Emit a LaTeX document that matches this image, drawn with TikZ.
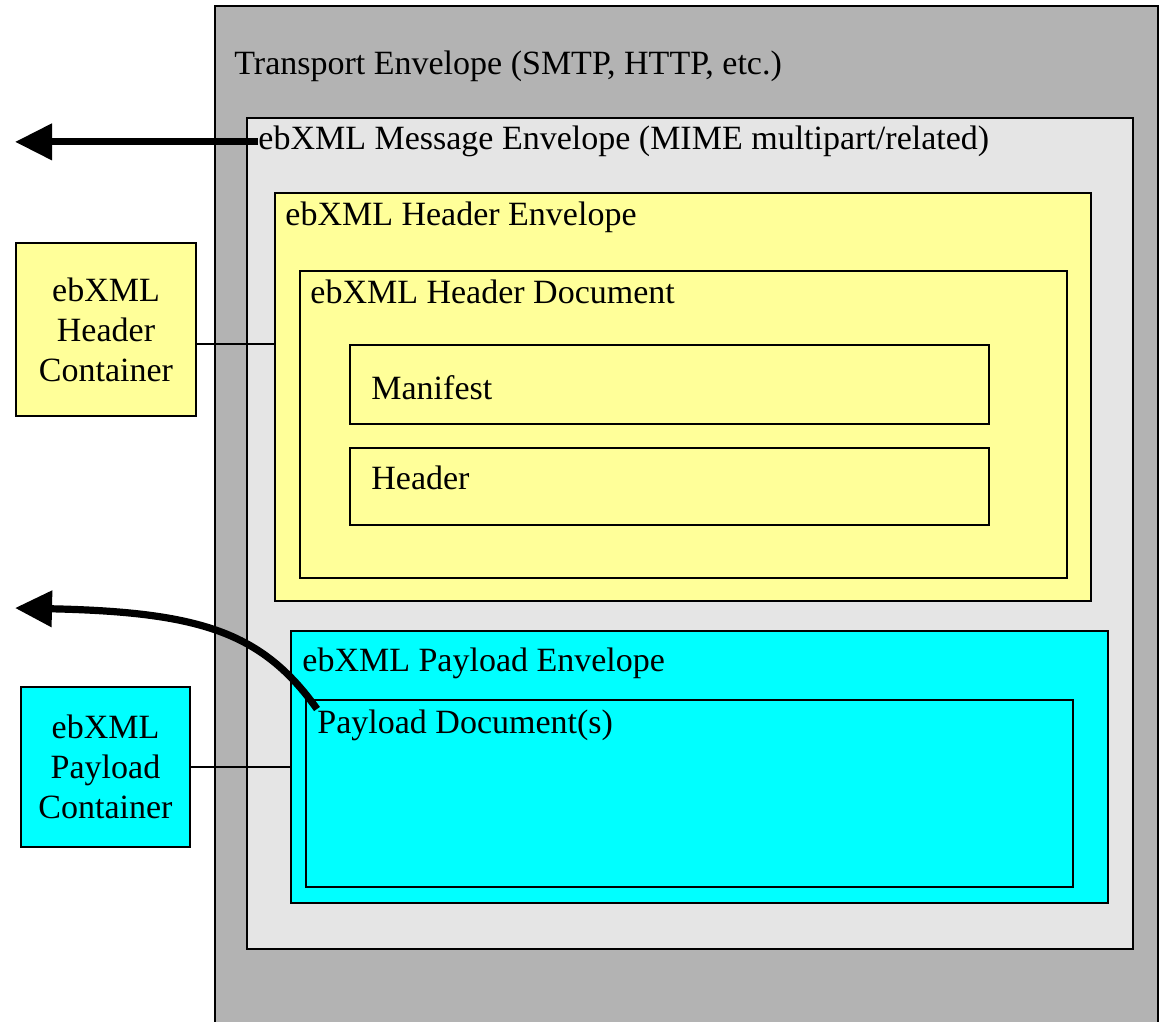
\documentclass[tikz,border=0pt]{standalone}
\usepackage{fontspec}
\setmainfont{Liberation Serif}
\usetikzlibrary{positioning,arrows.meta}
\definecolor{transgray}{RGB}{179,179,179}
\definecolor{msggray}{RGB}{229,229,229}
\definecolor{hdryellow}{RGB}{255,255,153}
\definecolor{paycyan}{RGB}{0,255,255}

\begin{document}
\begin{tikzpicture}[x=0.5pt, y=-0.5pt,
env/.style={rectangle, draw=black, line width=1pt, anchor=north west, inner sep=0pt},
lbl/.style={anchor=base west, inner sep=0pt, font=\fontsize{17}{20}\selectfont},
cont/.style={rectangle, draw=black, line width=1pt, align=center, inner sep=0pt, font=\fontsize{17}{20}\selectfont},
link/.style={draw=black, line width=0.6pt},
bigarrow/.style={line width=3.6pt, -{Triangle[length=18.5pt,width=17.5pt]}}
]
\useasboundingbox (0,0) rectangle (1159,1021);

% nested envelopes
\node[env, fill=transgray, minimum width=471.5pt, minimum height=517.5pt](transport) at (214,5) {};
\node[env, fill=msggray, minimum width=443pt, minimum height=415.5pt](msg_env) at (246,117) {};
\node[env, fill=hdryellow, minimum width=408pt, minimum height=204pt](hdr_env) at (274,192) {};
\node[env, fill=hdryellow, minimum width=383.5pt, minimum height=153.5pt](hdr_doc) at (299,270) {};
\node[env, fill=hdryellow, minimum width=319.5pt, minimum height=39.5pt](manifest) at (349,344) {};
\node[env, fill=hdryellow, minimum width=319.5pt, minimum height=38.5pt](header) at (349,447) {};
\node[env, fill=paycyan, minimum width=408.5pt, minimum height=136pt](pay_env) at (290,630) {};
\node[env, fill=paycyan, minimum width=383.5pt, minimum height=93.5pt](pay_doc) at (305,699) {};

% labels
\node[lbl](transport_lbl) at (234,75) {Transport Envelope (SMTP, HTTP, etc.)};
\node[lbl](msg_lbl) at (258,150) {ebXML Message Envelope (MIME multipart/related)};
\node[lbl](hdr_env_lbl) at (285,226) {ebXML Header Envelope};
\node[lbl](hdr_doc_lbl) at (310,303) {ebXML Header Document};
\node[lbl](manifest_lbl) at (371,399) {Manifest};
\node[lbl](header_lbl) at (371,489) {Header};
\node[lbl](pay_env_lbl) at (302,671) {ebXML Payload Envelope};
\node[lbl](pay_doc_lbl) at (317,733) {Payload Document(s)};

% containers
\node[cont, fill=hdryellow, minimum width=90pt, minimum height=86.5pt](hdr_cont) at (106,329.5) {ebXML\\Header\\Container};
\node[cont, fill=paycyan, minimum width=84.5pt, minimum height=80pt](pay_cont) at (105.5,767) {ebXML\\Payload\\Container};

\coordinate (hdr_link) at (196,344);
\coordinate (msg_out) at (15,143);
\coordinate (pay_out) at (15,608);

\draw[link] (hdr_link) -- (hdr_link -| hdr_env.west);
\draw[link] (pay_cont.east) -- (pay_cont.east -| pay_env.west);

\draw[bigarrow] (msg_lbl.west) -- (msg_lbl.west -| msg_out);
\draw[bigarrow] (pay_doc_lbl.north west) .. controls (262,632) and (200,612) .. (pay_out);

\end{tikzpicture}
\end{document}
